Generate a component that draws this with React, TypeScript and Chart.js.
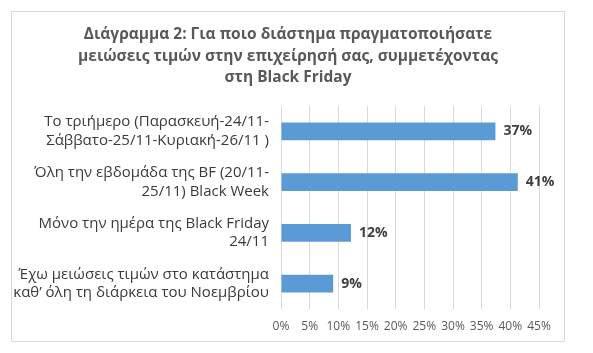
import { useEffect, useRef } from "react";
import { Chart, registerables } from "chart.js";

Chart.register(...registerables);

const titleLines = [
  "Διάγραμμα 2: Για ποιο διάστημα πραγματοποιήσατε",
  "μειώσεις τιμών στην επιχείρησή σας, συμμετέχοντας",
  "στη Black Friday",
];

const categories = [
  ["Το τριήμερο (Παρασκευή-24/11-", "Σάββατο-25/11-Κυριακή-26/11 )"],
  ["Όλη την εβδομάδα της BF (20/11-", "25/11) Black Week"],
  ["Μόνο την ημέρα της Black Friday", "24/11"],
  ["Έχω μειώσεις τιμών στο κατάστημα", "καθ’ όλη τη διάρκεια του Νοεμβρίου"],
];

const values = [37.4, 41.3, 12.2, 9.1];
const valueLabels = ["37%", "41%", "12%", "9%"];

const xMin = 0;
const xMax = 45;
const xStep = 5;

const FONT = "'Open Sans', 'Noto Sans', sans-serif";

export default function App() {
  const ref = useRef<HTMLCanvasElement | null>(null);

  useEffect(() => {
    document.body.style.margin = "0";
    const canvas = ref.current;
    if (!canvas) return;

    const borderPlugin = {
      id: "outerBorder",
      beforeDraw(chart: any) {
        const ctx = chart.ctx;
        ctx.save();
        ctx.fillStyle = "#ffffff";
        ctx.fillRect(0, 0, chart.width, chart.height);
        ctx.strokeStyle = "#d9d9d9";
        ctx.lineWidth = 1;
        ctx.strokeRect(11.5, 11.5, 553, 330);
        ctx.restore();
      },
    };

    const titlePlugin = {
      id: "customTitle",
      afterDraw(chart: any) {
        const ctx = chart.ctx;
        ctx.save();
        ctx.font = `bold 15.5px ${FONT}`;
        ctx.fillStyle = "#595959";
        ctx.textAlign = "center";
        ctx.textBaseline = "middle";
        titleLines.forEach((line, i) => {
          ctx.fillText(line, 288, 35 + i * 21.5);
        });
        ctx.restore();
      },
    };

    const labelPlugin = {
      id: "valueLabels",
      afterDatasetsDraw(chart: any) {
        const ctx = chart.ctx;
        const meta = chart.getDatasetMeta(0);
        ctx.save();
        ctx.font = `bold 14px ${FONT}`;
        ctx.fillStyle = "#404040";
        ctx.textAlign = "left";
        ctx.textBaseline = "middle";
        meta.data.forEach((bar: any, i: number) => {
          ctx.fillText(valueLabels[i], bar.x + 8, bar.y);
        });
        ctx.restore();
      },
    };

    const chart = new Chart(canvas, {
      type: "bar",
      data: {
        labels: categories,
        datasets: [
          {
            data: values,
            backgroundColor: "#5b9bd5",
            borderWidth: 0,
            categoryPercentage: 1,
            barPercentage: 0.345,
          },
        ],
      },
      options: {
        indexAxis: "y",
        responsive: false,
        animation: false,
        devicePixelRatio: 1,
        layout: { padding: { left: 0, right: 54, top: 106, bottom: 0 } },
        plugins: {
          legend: { display: false },
          tooltip: { enabled: false },
          title: { display: false },
        },
        scales: {
          x: {
            type: "linear",
            min: xMin,
            max: xMax,
            grid: { color: "#d9d9d9", drawTicks: false },
            border: { display: false },
            ticks: {
              stepSize: xStep,
              padding: 10,
              maxRotation: 0,
              minRotation: 0,
              autoSkip: false,
              color: "#595959",
              font: { family: FONT, size: 12 },
              callback: (v: any) => `${v}%`,
            },
            afterFit: (s: any) => {
              s.height = 44;
            },
          },
          y: {
            type: "category",
            grid: { display: false, drawTicks: false },
            border: { display: false },
            ticks: {
              padding: 12,
              color: "#3a3a3a",
              font: { family: FONT, size: 15, lineHeight: 1.22 },
            },
            afterFit: (s: any) => {
              s.width = 281;
            },
          },
        },
      },
      plugins: [borderPlugin, labelPlugin, titlePlugin],
    } as any);

    return () => chart.destroy();
  }, []);

  return (
    <div style={{ position: "absolute", left: 0, top: 0, width: 593, height: 353 }}>
      <canvas ref={ref} width={593} height={353} style={{ width: 593, height: 353 }} />
    </div>
  );
}
